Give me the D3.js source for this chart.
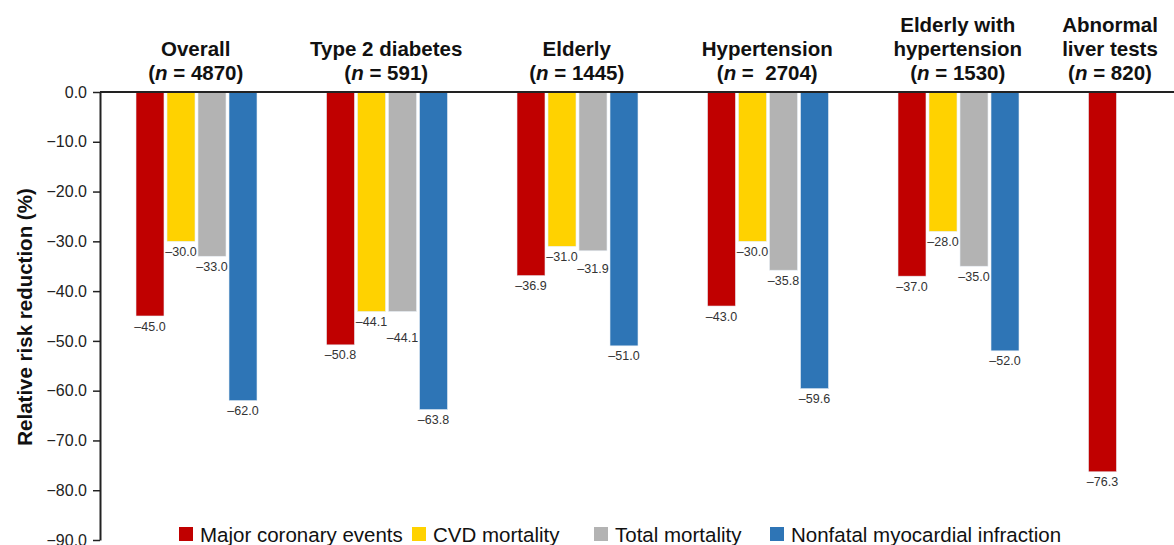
<!DOCTYPE html>
<html>
<head>
<meta charset="utf-8">
<script src="https://cdn.jsdelivr.net/npm/d3@7"></script>
<style>
  body { margin: 0; background: #fff; }
  text { font-family: "Liberation Sans", Arial, sans-serif; }
</style>
</head>
<body>
<div id="chart"></div>
<script>
var groups = ['Overall', 'Type 2 diabetes', 'Elderly', 'Hypertension', 'Elderly with|hypertension', 'Abnormal|liver tests'];
var groupN = ['4870', '591', '1445', ' 2704', '1530', '820'];
var series = ['Major coronary events', 'CVD mortality', 'Total mortality', 'Nonfatal myocardial infraction'];
var colors = ['#c00000', '#ffd200', '#b3b3b3', '#2e75b6'];

var majorCoronary = [-45.0, -50.8, -36.9, -43.0, -37.0, -76.3];
var cvdMortality = [-30.0, -44.1, -31.0, -30.0, -28.0, null];
var totalMortality = [-33.0, -44.1, -31.9, -35.8, -35.0, null];
var nonfatalMI = [-62.0, -63.8, -51.0, -59.6, -52.0, null];

var yTicks = [0, -10, -20, -30, -40, -50, -60, -70, -80, -90];

var allSeries = [majorCoronary, cvdMortality, totalMortality, nonfatalMI];
var rows = [];
groups.forEach(function(g, i) {
  allSeries.forEach(function(s, j) {
    if (s[i] !== null) {
      // how close this value is to its left neighbour (labels would collide)
      var gap = (j > 0 && allSeries[j - 1][i] !== null) ? Math.abs(allSeries[j - 1][i] - s[i]) : 99;
      rows.push({ group: g, series: series[j], value: s[i], color: colors[j], gap: gap });
    }
  });
});

var width = 1174, height = 545;
var svg = d3.select('#chart').append('svg')
  .attr('width', width)
  .attr('height', height);

var x0 = d3.scaleBand()
  .domain(groups)
  .range([100.5, 1243.5])
  .paddingInner(0)
  .paddingOuter(0);

var x1 = d3.scaleBand()
  .domain(series)
  .range([35.5, 156.5])
  .paddingInner(0.097);

var y = d3.scaleLinear()
  .domain([-90, 0])
  .range([540, 92]);

var fmt = function(v) { return d3.format('.1f')(v).replace('−', '–').replace('-', '–'); };

// bars
svg.selectAll('.bar')
  .data(rows)
  .enter()
  .append('rect')
  .attr('class', 'bar')
  .attr('x', function(d) { return x0(d.group) + x1(d.series); })
  .attr('y', y(0))
  .attr('width', x1.bandwidth())
  .attr('height', function(d) { return y(d.value) - y(0); })
  .attr('fill', function(d) { return d.color; })
  .attr('stroke', '#e8eef5')
  .attr('stroke-width', 0.6);

// value labels
svg.selectAll('.val')
  .data(rows)
  .enter()
  .append('text')
  .attr('class', 'val')
  .attr('x', function(d) { return x0(d.group) + x1(d.series) + x1.bandwidth() / 2; })
  .attr('y', function(d) {
    var off = d.gap < 0.5 ? 30 : (d.gap < 2 ? 22 : 14.5);
    return y(d.value) + off;
  })
  .attr('text-anchor', 'middle')
  .attr('font-size', 12.5)
  .attr('fill', '#333')
  .text(function(d) { return fmt(d.value); });

// y axis
var yAxis = svg.append('g')
  .attr('transform', 'translate(100,0)')
  .call(d3.axisLeft(y).tickValues(yTicks).tickSize(7).tickSizeOuter(0)
    .tickFormat(function(d) { return d3.format('.1f')(d).replace('-', '−'); }));
yAxis.select('.domain').attr('stroke', '#222').attr('stroke-width', 2);
yAxis.selectAll('.tick line').attr('stroke', '#222').attr('stroke-width', 1.5);
yAxis.selectAll('.tick text')
  .attr('font-size', 16)
  .attr('fill', '#222')
  .attr('x', -13)
  .style('font-family', '"Liberation Sans", Arial, sans-serif');

// zero line across top
svg.append('line')
  .attr('x1', 100).attr('x2', width)
  .attr('y1', y(0)).attr('y2', y(0))
  .attr('stroke', '#222')
  .attr('stroke-width', 2);

// y axis label
svg.append('text')
  .attr('transform', 'translate(32,317) rotate(-90)')
  .attr('text-anchor', 'middle')
  .attr('font-size', 20.5)
  .attr('font-weight', 'bold')
  .attr('fill', '#111')
  .text('Relative risk reduction (%)');

// group titles
groups.forEach(function(g, i) {
  var cx = Math.min(x0(g) + x0.bandwidth() / 2, width - 64);
  var lines = g.split('|');
  var t = svg.append('text')
    .attr('text-anchor', 'middle')
    .attr('font-size', 20.5)
    .attr('font-weight', 'bold')
    .attr('fill', '#111');
  lines.forEach(function(l, k) {
    t.append('tspan')
      .attr('x', cx)
      .attr('y', 80 - (lines.length - k) * 24)
      .text(l);
  });
  var last = t.append('tspan').attr('x', cx).attr('y', 80);
  last.append('tspan').text('(');
  last.append('tspan').attr('font-style', 'italic').text('n');
  last.append('tspan').text(' = ' + groupN[i] + ')').style('white-space', 'pre');
});

// legend
var legendX = [179, 412, 594, 770];
var legend = svg.selectAll('.legend')
  .data(series)
  .enter()
  .append('g')
  .attr('class', 'legend')
  .attr('transform', function(d, i) { return 'translate(' + legendX[i] + ',527)'; });
legend.append('rect')
  .attr('width', 14)
  .attr('height', 14)
  .attr('fill', function(d, i) { return colors[i]; });
legend.append('text')
  .attr('x', 21)
  .attr('y', 15)
  .attr('font-size', 20.5)
  .attr('fill', '#111')
  .text(function(d) { return d; });
</script>
</body>
</html>
